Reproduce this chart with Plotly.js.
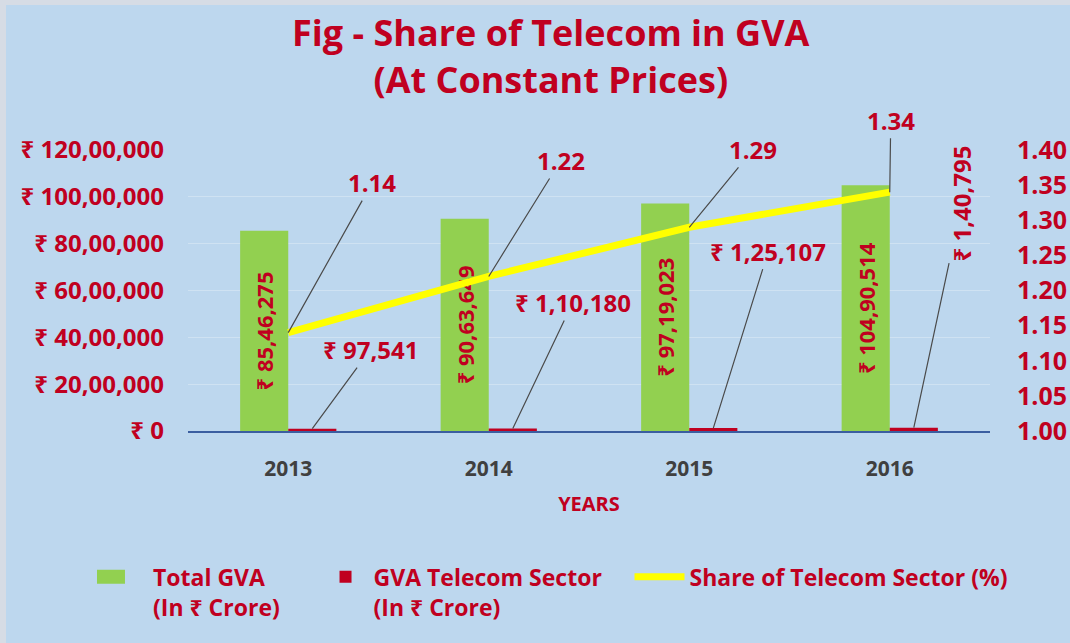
<!DOCTYPE html>
<html><head><meta charset="utf-8">
<script src="https://cdn.plot.ly/plotly-3.0.1.min.js"></script>
<style>
html,body{margin:0;padding:0;background:#D6DCE5;width:1070px;height:643px;overflow:hidden}
#chart{position:absolute;left:6px;top:5px;width:1064px;height:638px}
</style>
</head><body><div id="chart"></div><script>
const years = ['2013', '2014', '2015', '2016'];
const totalGVA = [8546275, 9063649, 9719023, 10490514];
const telecomGVA = [97541, 110180, 125107, 140795];
const sharePct = [1.14, 1.22, 1.29, 1.34];
const leftTickVals = [0, 2000000, 4000000, 6000000, 8000000, 10000000, 12000000];
const leftTickText = ['₹ 0', '₹ 20,00,000', '₹ 40,00,000', '₹ 60,00,000', '₹ 80,00,000', '₹ 100,00,000', '₹ 120,00,000'];

const RED = '#C00020';
const FONT = '"Open Sans", "Noto Sans", sans-serif';

function inr(n) {
  const s = String(n);
  if (s.length <= 3) return '₹ ' + s;
  const a = s.slice(-3), b = s.slice(0, -3);
  if (b.length <= 2) return '₹ ' + b + ',' + a;
  return '₹ ' + b.slice(0, -2) + ',' + b.slice(-2) + ',' + a;
}

const bargap = 0.52;
const barHalf = (1 - bargap) / 4; // center offset of each bar in a 2-bar group

const traces = [
  {
    type: 'bar', name: 'Total GVA<br>(In ₹ Crore)', x: years, y: totalGVA,
    marker: {color: '#92D050'}, text: totalGVA.map(inr), textposition: 'inside',
    insidetextanchor: 'middle', textangle: -90, constraintext: 'none',
    textfont: {family: FONT, size: 22, color: RED, weight: 'bold'},
    legend: 'legend', hoverinfo: 'skip'
  },
  {
    type: 'bar', name: 'GVA Telecom Sector<br>(In ₹ Crore)', x: years, y: telecomGVA,
    marker: {color: '#C00020'}, legend: 'legend2', hoverinfo: 'skip'
  },
  {
    type: 'scatter', mode: 'lines', name: 'Share of Telecom Sector (%)', x: years, y: sharePct,
    yaxis: 'y2', line: {color: '#FFFF00', width: 7}, legend: 'legend3', hoverinfo: 'skip'
  }
];

// label offsets (pixels) for leader-line annotations
const shareOffsets = [[84, -150], [72, -116], [64, -78], [1, -72]];
const telecomOffsets = [[58, -79], [60, -126], [55, -177], [48, -224]];

const annotations = [];
sharePct.forEach((v, i) => {
  annotations.push({
    x: i, y: v, xref: 'x', yref: 'y2', text: v.toFixed(2),
    ax: shareOffsets[i][0], ay: shareOffsets[i][1], showarrow: true, arrowhead: 0,
    arrowwidth: 1.2, arrowcolor: '#4A4A4A', standoff: 0,
    font: {family: FONT, size: 24, color: RED, weight: 'bold'}
  });
});
telecomGVA.forEach((v, i) => {
  annotations.push({
    x: i + barHalf, y: v, xref: 'x', yref: 'y', text: inr(v),
    ax: telecomOffsets[i][0], ay: telecomOffsets[i][1], showarrow: true, arrowhead: 0,
    arrowwidth: 1.2, arrowcolor: '#4A4A4A', standoff: 0, textangle: i === 3 ? -90 : 0,
    font: {family: FONT, size: 24, color: RED, weight: 'bold'}
  });
});

const legendFont = {family: FONT, size: 23, color: RED, weight: 'bold'};
const legendBase = {orientation: 'h', yanchor: 'top', xanchor: 'left', bgcolor: 'rgba(0,0,0,0)', font: legendFont, valign: 'top', y: -0.442};

const layout = {
  paper_bgcolor: '#BDD7EE', plot_bgcolor: '#BDD7EE',
  margin: {l: 182, r: 80, t: 145, b: 212},
  title: {text: 'Fig - Share of Telecom in GVA<br>(At Constant Prices)', x: 0.512, xanchor: 'center', y: 0.935, yanchor: 'top',
    font: {family: FONT, size: 36, color: RED, weight: 'bold'}},
  barmode: 'group', bargap: bargap, bargroupgap: 0,
  showlegend: true,
  legend: Object.assign({}, legendBase, {x: -0.1135, itemwidth: 46}),
  legend2: Object.assign({}, legendBase, {x: 0.1615, itemwidth: 46}),
  legend3: Object.assign({}, legendBase, {x: 0.5505, itemwidth: 50}),
  xaxis: {type: 'category', showgrid: false, showline: true, linecolor: '#3B5EA0', linewidth: 2,
    ticks: '', ticklabelstandoff: 18, tickfont: {family: FONT, size: 21, color: '#404040', weight: 'bold'},
    title: {text: 'YEARS', standoff: 16, font: {family: FONT, size: 20, color: RED, weight: 'bold'}}},
  yaxis: {range: [0, 12000000], tickvals: leftTickVals, ticktext: leftTickText, showgrid: true,
    gridcolor: 'rgba(255,255,255,0.28)', gridwidth: 1, zeroline: false, showline: false, ticks: '',
    ticklabelstandoff: 23, tickfont: {family: FONT, size: 24, color: RED, weight: 'bold'}},
  yaxis2: {range: [1.0, 1.4], overlaying: 'y', side: 'right', dtick: 0.05, tickformat: '.2f', showgrid: false,
    zeroline: false, showline: false, ticks: '', ticklabelstandoff: 26,
    tickfont: {family: FONT, size: 25, color: RED, weight: 'bold'}},
  annotations: annotations
};

const gd = document.getElementById('chart');
const SQUARE = 'M6,6H-6V-6H6Z';
function widenSwatches() {
  // reshape the bar legend swatches into the reference's wide rectangles, ending 28px before the text
  gd.querySelectorAll('g.legendpoints path').forEach(p => {
    const d = (p.getAttribute('d') || '').replace(/\s/g, '');
    if (d !== SQUARE) return;
    const g = p.closest('g.traces');
    if (!g) return;
    const t = g.querySelector('text.legendtext');
    if (!t) return;
    const pr = p.getBoundingClientRect();
    const tr = t.getBoundingClientRect();
    if (!pr.width || !tr.width) return;
    const cx = (pr.left + pr.right) / 2;
    const l = Math.round(tr.left - 56 - cx), r = Math.round(tr.left - 28 - cx);
    p.setAttribute('d', 'M' + l + ',-7H' + r + 'V7H' + l + 'Z');
  });
}
const obs = new MutationObserver(() => widenSwatches());
obs.observe(gd, {subtree: true, childList: true, attributes: true, attributeFilter: ['d', 'transform', 'x']});
Plotly.newPlot(gd, traces, layout, {displayModeBar: false, staticPlot: true}).then(() => {
  widenSwatches();
  setTimeout(widenSwatches, 0);
  setTimeout(widenSwatches, 100);
  setTimeout(widenSwatches, 400);
});
</script></body></html>
